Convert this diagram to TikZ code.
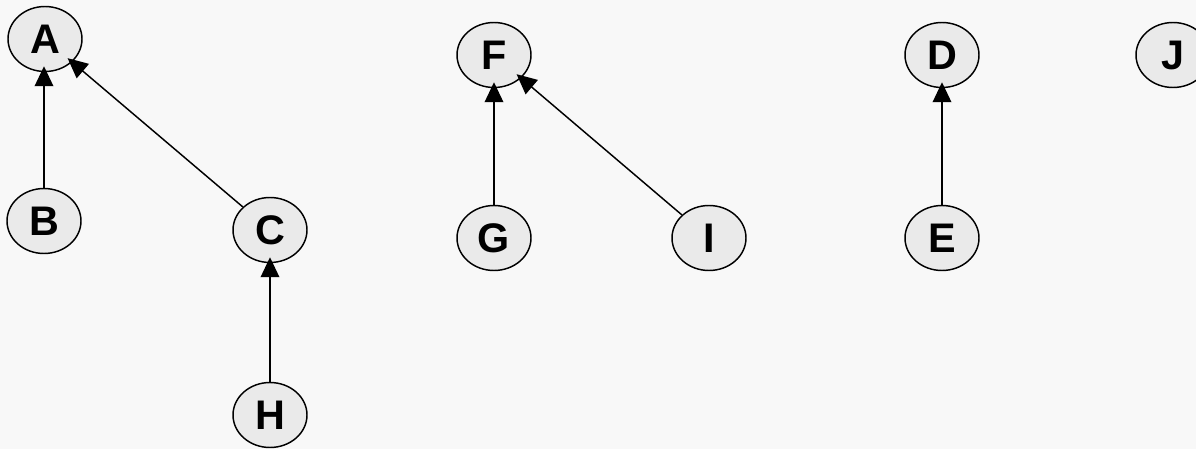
\documentclass[tikz,border=0pt]{standalone}
\usepackage{fontspec}
\setmainfont{Liberation Sans}
\usetikzlibrary{shapes.geometric,arrows.meta}
\definecolor{bgc}{HTML}{F8F8F8}
\definecolor{nodefill}{HTML}{EAEAEA}
\begin{document}
\begin{tikzpicture}[x=0.75pt,y=-0.75pt,
  vert/.style={ellipse,draw=black,line width=1.1pt,fill=nodefill,
    minimum width=55.5pt,minimum height=48.75pt,inner sep=0pt,
    font=\fontsize{31}{31}\selectfont\bfseries},
  edge/.style={line width=1.1pt,-{Triangle[length=15pt,width=14pt]},shorten >=-4.5pt}]
\clip (0,0) rectangle (1196,449);
\fill[bgc] (0,0) rectangle (1196,449);
\node[vert] (A) at (45,39) {A};
\node[vert] (B) at (44,221) {B};
\node[vert] (C) at (270,230) {C};
\node[vert] (H) at (270,415) {H};
\node[vert] (F) at (494,55) {F};
\node[vert] (G) at (494,238) {G};
\node[vert] (I) at (709,238) {I};
\node[vert] (D) at (942,55) {D};
\node[vert] (E) at (942,238) {E};
\node[vert] (J) at (1173,55) {J};
\draw[edge] (B) -- (B |- A.south);
\draw[edge] (C) -- (A);
\draw[edge] (H) -- (C);
\draw[edge] (G) -- (F);
\draw[edge] (I) -- (F);
\draw[edge] (E) -- (D);
\end{tikzpicture}
\end{document}
